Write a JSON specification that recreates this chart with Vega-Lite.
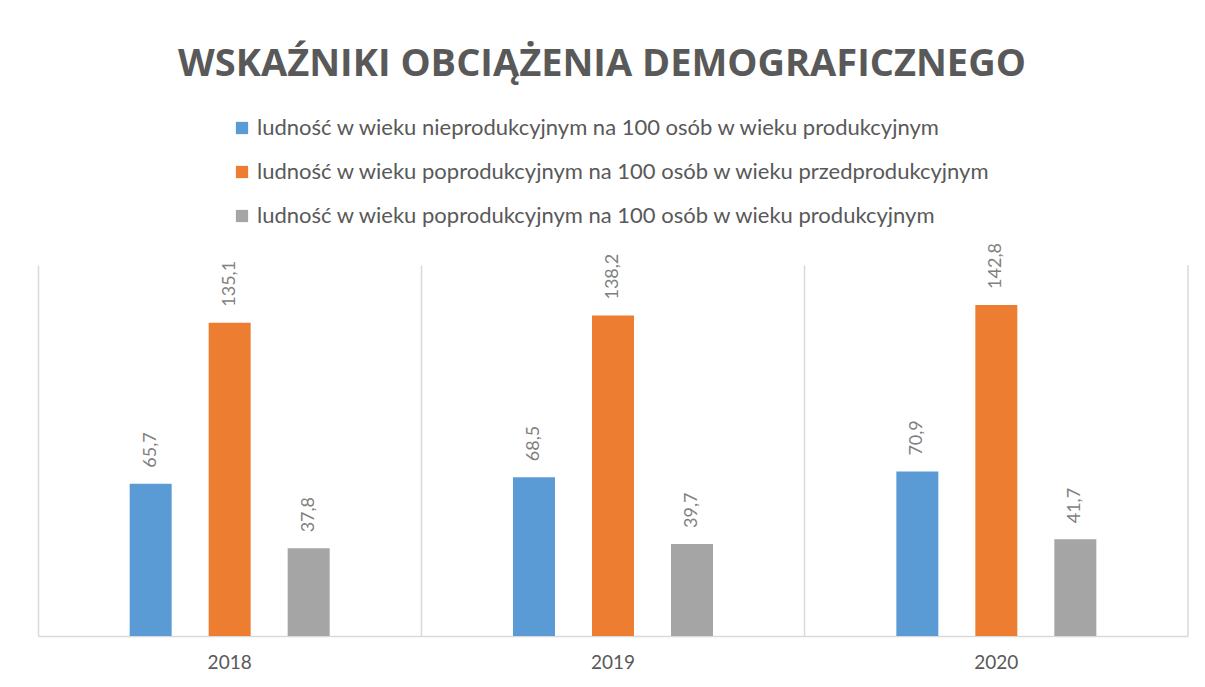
{
  "$schema": "https://vega.github.io/schema/vega-lite/v6.json",
  "autosize": "none",
  "width": 1150,
  "height": 371,
  "padding": {"left": 38, "top": 265, "right": 17, "bottom": 51},
  "background": "white",
  "config": {
    "locale": {"number": {"decimal": ",", "thousands": " ", "grouping": [3], "currency": ["", " zł"]}},
    "view": {"stroke": null},
    "font": "Lato"
  },
  "title": {
    "text": "WSKAŹNIKI OBCIĄŻENIA DEMOGRAFICZNEGO",
    "font": "Open Sans",
    "fontSize": 38,
    "fontWeight": "bold",
    "color": "#595959",
    "anchor": "middle",
    "dx": -11,
    "offset": 33
  },
  "data": {
    "values": [
      {"year": "2018", "series": "ludność w wieku nieprodukcyjnym na 100 osób w wieku produkcyjnym", "value": 65.7},
      {"year": "2018", "series": "ludność w wieku poprodukcyjnym na 100 osób w wieku przedprodukcyjnym", "value": 135.1},
      {"year": "2018", "series": "ludność w wieku poprodukcyjnym na 100 osób w wieku produkcyjnym", "value": 37.8},
      {"year": "2019", "series": "ludność w wieku nieprodukcyjnym na 100 osób w wieku produkcyjnym", "value": 68.5},
      {"year": "2019", "series": "ludność w wieku poprodukcyjnym na 100 osób w wieku przedprodukcyjnym", "value": 138.2},
      {"year": "2019", "series": "ludność w wieku poprodukcyjnym na 100 osób w wieku produkcyjnym", "value": 39.7},
      {"year": "2020", "series": "ludność w wieku nieprodukcyjnym na 100 osób w wieku produkcyjnym", "value": 70.9},
      {"year": "2020", "series": "ludność w wieku poprodukcyjnym na 100 osób w wieku przedprodukcyjnym", "value": 142.8},
      {"year": "2020", "series": "ludność w wieku poprodukcyjnym na 100 osób w wieku produkcyjnym", "value": 41.7}
    ]
  },
  "encoding": {
    "x": {
      "field": "year",
      "type": "nominal",
      "scale": {"paddingInner": 0, "paddingOuter": 0},
      "axis": {
        "title": null,
        "ticks": false,
        "grid": true,
        "gridColor": "#d9d9d9",
        "gridWidth": 1.5,
        "bandPosition": 0,
        "labelAngle": 0,
        "labelFontSize": 19,
        "labelColor": "#595959",
        "labelPadding": 17,
        "domainColor": "#d9d9d9",
        "domainWidth": 1.5
      }
    }
  },
  "layer": [
    {
      "data": {"values": [{"year": "2020"}]},
      "mark": {"type": "rule", "color": "#d9d9d9", "strokeWidth": 1.5},
      "encoding": {
        "x": {"field": "year", "type": "nominal", "bandPosition": 1}
      }
    },
    {
      "mark": {"type": "bar", "width": 42},
      "encoding": {
        "xOffset": {
          "field": "series",
          "type": "nominal",
          "sort": [
            "ludność w wieku nieprodukcyjnym na 100 osób w wieku produkcyjnym",
            "ludność w wieku poprodukcyjnym na 100 osób w wieku przedprodukcyjnym",
            "ludność w wieku poprodukcyjnym na 100 osób w wieku produkcyjnym"
          ],
          "scale": {"paddingInner": 0, "paddingOuter": 0.926}
        },
        "y": {"field": "value", "type": "quantitative", "scale": {"domain": [0, 160]}, "axis": null},
        "color": {
          "field": "series",
          "type": "nominal",
          "scale": {
            "domain": [
              "ludność w wieku nieprodukcyjnym na 100 osób w wieku produkcyjnym",
              "ludność w wieku poprodukcyjnym na 100 osób w wieku przedprodukcyjnym",
              "ludność w wieku poprodukcyjnym na 100 osób w wieku produkcyjnym"
            ],
            "range": ["#5B9BD5", "#ED7D31", "#A5A5A5"]
          },
          "legend": {
            "title": null,
            "orient": "none",
            "legendX": 193,
            "legendY": -148,
            "direction": "vertical",
            "symbolType": "square",
            "symbolSize": 150,
            "symbolStrokeWidth": 0,
            "labelFontSize": 22,
            "labelColor": "#595959",
            "labelLimit": 0,
            "labelOffset": 4,
            "rowPadding": 22,
            "padding": 0
          }
        }
      }
    },
    {
      "mark": {"type": "text", "angle": 270, "align": "left", "baseline": "middle", "dx": 16, "fontSize": 18, "color": "#7f7f7f"},
      "encoding": {
        "xOffset": {
          "field": "series",
          "type": "nominal",
          "sort": [
            "ludność w wieku nieprodukcyjnym na 100 osób w wieku produkcyjnym",
            "ludność w wieku poprodukcyjnym na 100 osób w wieku przedprodukcyjnym",
            "ludność w wieku poprodukcyjnym na 100 osób w wieku produkcyjnym"
          ]
        },
        "y": {"field": "value", "type": "quantitative"},
        "text": {"field": "value", "type": "quantitative", "format": ".1f"}
      }
    }
  ]
}
